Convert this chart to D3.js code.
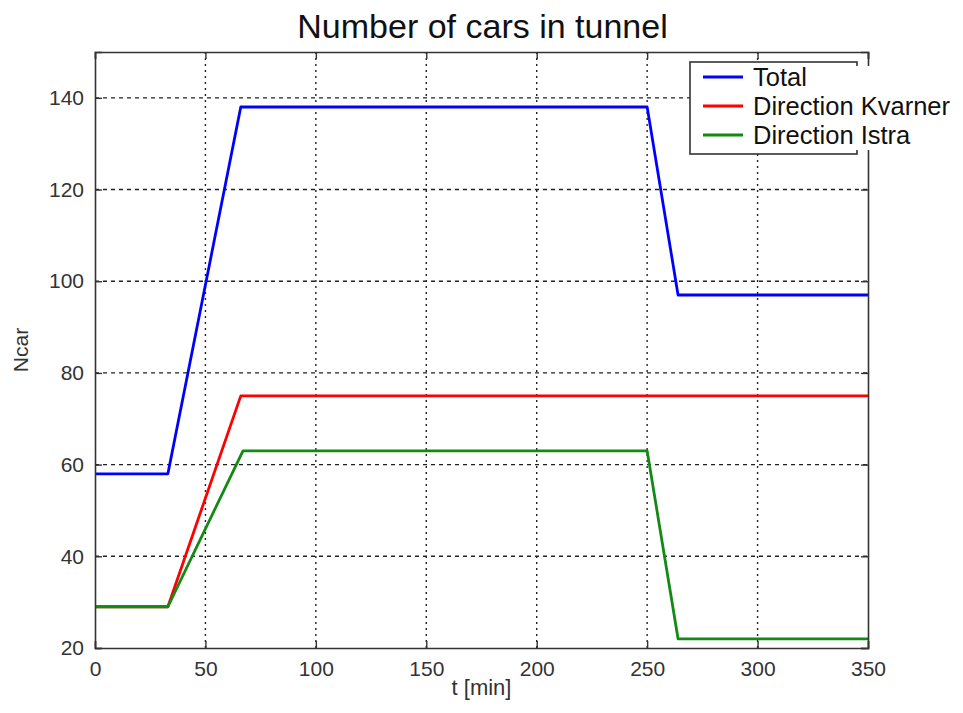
<!DOCTYPE html>
<html>
<head>
<meta charset="utf-8">
<script src="https://cdn.jsdelivr.net/npm/d3@7"></script>
<style>
  body { margin: 0; background: #fff; }
  text { font-family: "Liberation Sans", Arial, sans-serif; }
</style>
</head>
<body>
<div id="chart"></div>
<script>
'use strict';

// breakpoints (t in min, number of cars)
const totalT = [0, 33, 66, 250, 264, 350];
const totalN = [58, 58, 138, 138, 97, 97];
const kvarnerT = [0, 33, 66, 350];
const kvarnerN = [29, 29, 75, 75];
const istraT = [0, 33, 67, 250, 264, 350];
const istraN = [29, 29, 63, 63, 22, 22];

const seriesNames = ['Total', 'Direction Kvarner', 'Direction Istra'];
const seriesColors = ['#0000ff', '#ff0000', '#138a13'];
const xTicks = [0, 50, 100, 150, 200, 250, 300, 350];
const yTicks = [20, 40, 60, 80, 100, 120, 140];

const width = 963, height = 713;
const margin = { top: 52, right: 95, bottom: 65, left: 95 };
const plotW = width - margin.left - margin.right;
const plotH = height - margin.top - margin.bottom;

const svg = d3.select('#chart').append('svg').attr('width', width).attr('height', height);
const g = svg.append('g').attr('transform', `translate(${margin.left},${margin.top})`);

const x = d3.scaleLinear().domain([0, 350]).range([0, plotW]);
const y = d3.scaleLinear().domain([20, 150]).range([plotH, 0]);

// grid
g.selectAll('.vgrid').data(xTicks.slice(1, -1)).enter().append('line')
    .attr('x1', d => x(d)).attr('x2', d => x(d)).attr('y1', 0).attr('y2', plotH)
    .attr('stroke', '#222').attr('stroke-width', 1.4).attr('stroke-dasharray', '2,4');
g.selectAll('.hgrid').data(yTicks.filter(d => d > 20)).enter().append('line')
    .attr('x1', 0).attr('x2', plotW).attr('y1', d => y(d)).attr('y2', d => y(d))
    .attr('stroke', '#222').attr('stroke-width', 1.4).attr('stroke-dasharray', '4,4');

// lines
const series = [
    { t: totalT, n: totalN },
    { t: kvarnerT, n: kvarnerN },
    { t: istraT, n: istraN }
];
const line = d3.line().x(d => x(d[0])).y(d => y(d[1]));
series.forEach((s, i) => {
    const pts = s.t.map((t, j) => [t, s.n[j]]);
    g.append('path').datum(pts)
        .attr('d', line)
        .attr('fill', 'none')
        .attr('stroke', seriesColors[i])
        .attr('stroke-width', 2.8)
        .attr('stroke-linejoin', 'round');
});

// axes (ticks pointing inward, box on all sides)
const axisColor = '#333';
g.append('g').attr('transform', `translate(0,${plotH})`)
    .call(d3.axisBottom(x).tickValues(xTicks).tickSize(-7).tickPadding(13));
g.append('g')
    .call(d3.axisLeft(y).tickValues(yTicks).tickSize(-7).tickPadding(11));
g.append('g').call(d3.axisTop(x).tickValues(xTicks).tickSize(-7).tickFormat(''));
g.append('g').attr('transform', `translate(${plotW},0)`)
    .call(d3.axisRight(y).tickValues(yTicks).tickSize(-7).tickFormat(''));
g.selectAll('.domain').attr('stroke', axisColor).attr('stroke-width', 1.6);
g.selectAll('.tick line').attr('stroke', axisColor).attr('stroke-width', 1.4);
g.selectAll('.tick text').attr('fill', '#333').style('font-size', '21px');

// titles
svg.append('text').attr('x', margin.left + plotW / 2 + 1).attr('y', 38)
    .attr('text-anchor', 'middle').style('font-size', '34px').attr('fill', '#111')
    .text('Number of cars in tunnel');
svg.append('text').attr('x', margin.left + plotW / 2).attr('y', 695)
    .attr('text-anchor', 'middle').style('font-size', '22px').attr('fill', '#333')
    .text('t [min]');
svg.append('text').attr('transform', `translate(28,${margin.top + plotH / 2}) rotate(-90)`)
    .attr('text-anchor', 'middle').style('font-size', '21px').attr('fill', '#333')
    .text('Ncar');

// legend (text runs past the box on the right, as in the source figure)
const legend = svg.append('g').attr('transform', 'translate(690,62)');
legend.append('rect').attr('width', 167).attr('height', 92)
    .attr('fill', '#fff').attr('stroke', '#333').attr('stroke-width', 1.6);
// white strip behind the labels hides the borders they overlap
legend.append('rect').attr('x', 58).attr('y', 4).attr('width', 215).attr('height', 84)
    .attr('fill', '#fff');
const item = legend.selectAll('.item').data(seriesNames).enter().append('g')
    .attr('transform', (d, i) => `translate(0,${15 + i * 29})`);
item.append('line').attr('x1', 13).attr('x2', 53).attr('y1', 0).attr('y2', 0)
    .attr('stroke', (d, i) => seriesColors[i]).attr('stroke-width', 2.8);
item.append('text').attr('x', 63).attr('dy', '0.36em')
    .style('font-size', '25.5px').attr('fill', '#111').text(d => d);
</script>
</body>
</html>
